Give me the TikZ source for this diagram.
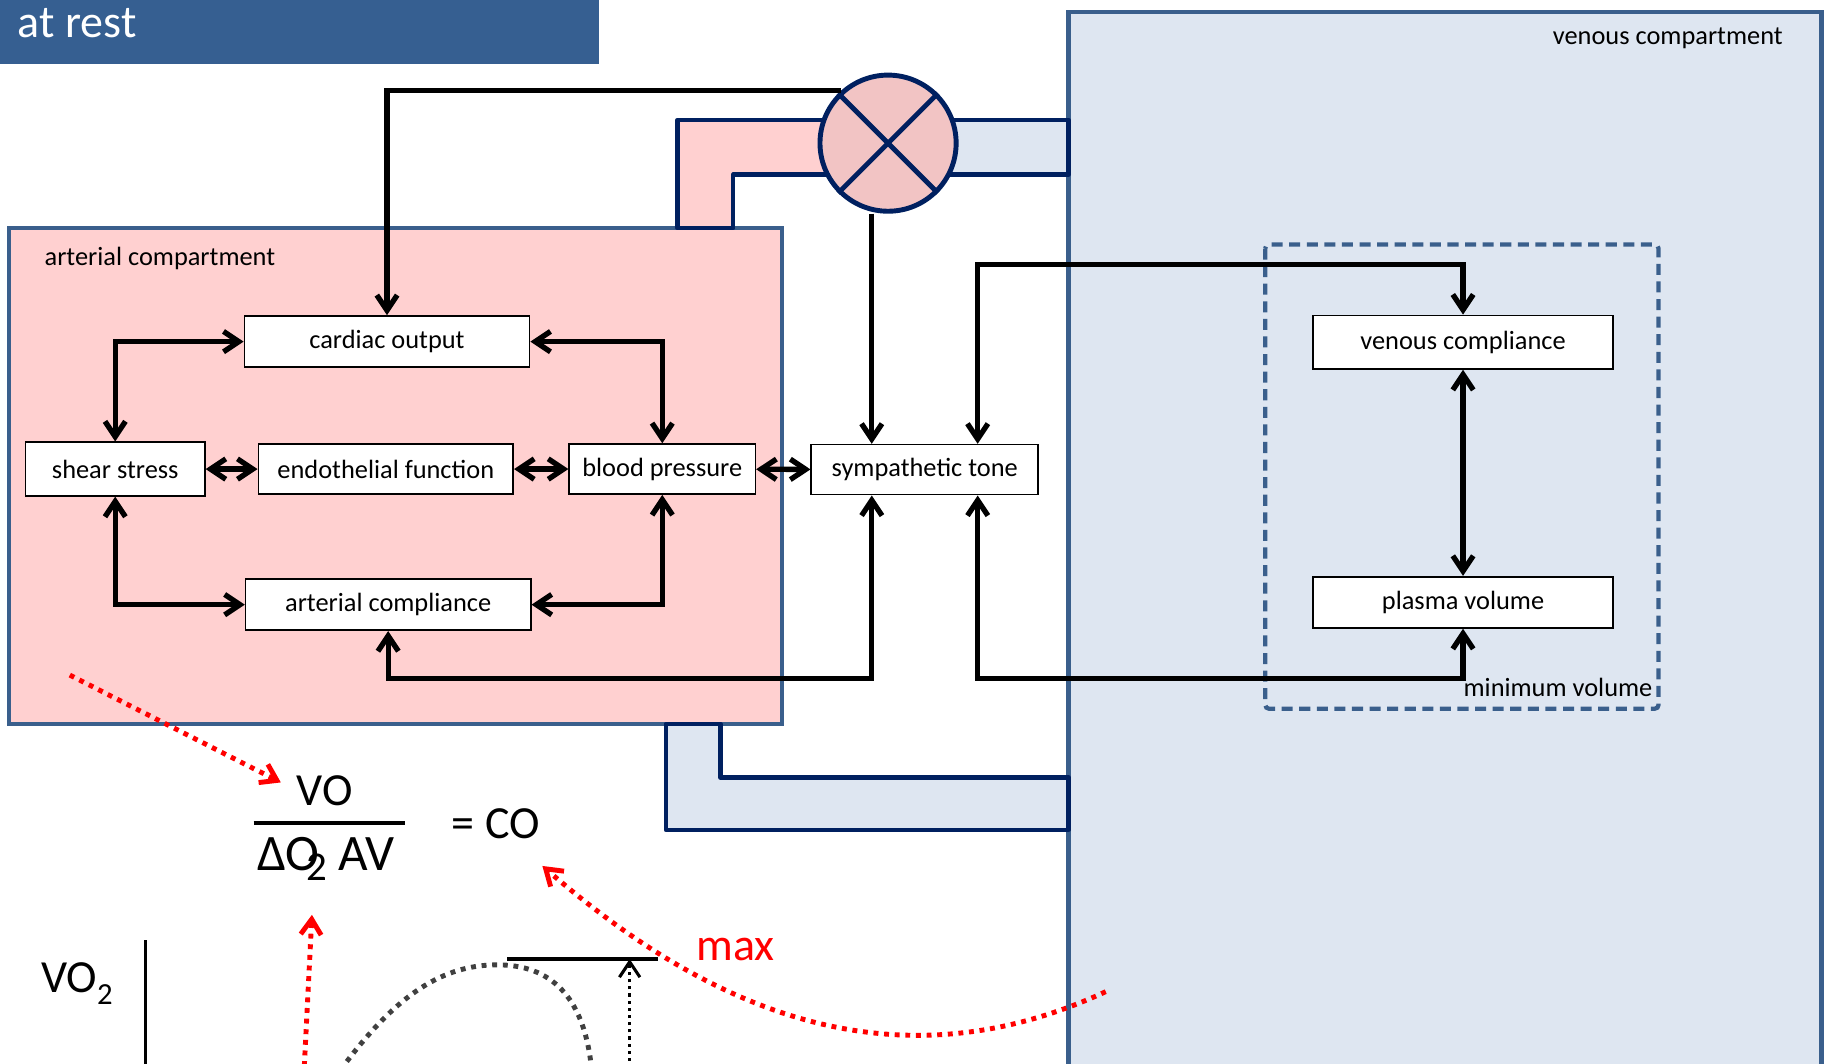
\documentclass[tikz,border=0pt]{standalone}
\usepackage{fontspec}
\setmainfont{Carlito}
\usetikzlibrary{arrows.meta,calc}
\definecolor{banner}{HTML}{365F91}
\definecolor{artfill}{HTML}{FFD0D0}
\definecolor{venfill}{HTML}{DEE6F1}
\definecolor{compline}{HTML}{3A5F8C}
\definecolor{navy}{HTML}{002060}
\definecolor{mixfill}{HTML}{F2C4C4}
\definecolor{dotgray}{HTML}{404040}
\newcommand{\lblfont}{\fontsize{12.9}{15}\selectfont}
\newcommand{\bigfont}{\fontsize{22.5}{27}\selectfont}

\begin{document}
\begin{tikzpicture}[x=0.02cm, y=-0.02cm,
  >={Straight Barb[length=7.5pt,width=10pt]},
  box/.style={draw, line width=0.8pt, fill=white, inner sep=0pt, minimum height=0.88cm, font=\lblfont},
  conn/.style={line width=2.6pt},
  comp/.style={draw=compline, line width=2.1pt},
  pipe/.style={draw=navy, line width=2.1pt, line join=round},
  reddot/.style={red, line width=2.4pt, dash pattern=on 2.4pt off 2.8pt},
  txt/.style={inner sep=0pt, font=\lblfont}
]
  \useasboundingbox (0,0) rectangle (1568,914);
  \clip (0,0) rectangle (1568,914);

  % title bar
  \fill[banner] (0,-10) rectangle (515,55);
  \node[txt, anchor=base west, text=white, font=\bigfont] (title) at (15,32) {at rest};

  % compartments
  \draw[comp, fill=venfill] (918,10) rectangle (1565,960);
  \draw[comp, fill=artfill] (8,196) rectangle (672,622);
  \node[txt, anchor=west] (arttitle) at (38,222) {arterial compartment};
  \node[txt, anchor=east] (ventitle) at (1532,33) {venous compartment};

  % vessels
  \draw[pipe, fill=artfill] (582,196) -- (582,103) -- (740,103) -- (740,150) -- (630,150) -- (630,196) -- cycle;
  \draw[pipe, fill=venfill] (790,103) -- (918,103) -- (918,150) -- (790,150) -- cycle;
  \draw[pipe, fill=venfill] (572,622) -- (572,713) -- (918,713) -- (918,668) -- (619,668) -- (619,622) -- cycle;

  % mixing point
  \node[circle, draw=navy, line width=2.4pt, fill=mixfill, minimum size=2.34cm, inner sep=0pt] (mix) at (763,123) {};
  \draw[navy, line width=2.4pt] (mix.45) -- (mix.225);
  \draw[navy, line width=2.4pt] (mix.135) -- (mix.315);

  % minimum volume
  \draw[compline, line width=2.1pt, dash pattern=on 5.4pt off 3.2pt, rounded corners=2pt] (1087,210) rectangle (1425,609);
  \node[txt, anchor=east] (minvol) at (1420,591) {minimum volume};

  % boxes
  \node[box, minimum width=4.9cm] (co) at (332.5,293.5) {cardiac output};
  \node[box, minimum width=3.08cm, minimum height=0.92cm] (ss) at (99,403) {shear stress};
  \node[box, minimum width=4.38cm, minimum height=0.86cm] (ef) at (331.5,403) {endothelial function};
  \node[box, minimum width=3.2cm, minimum height=0.86cm] (bp) at (569,403) {blood pressure};
  \node[box, minimum width=4.9cm] (ac) at (333.5,519.5) {arterial compliance};
  \node[box, minimum width=3.9cm, minimum height=0.86cm] (st) at (794.5,403.5) {sympathetic tone};
  \node[box, minimum width=5.16cm, minimum height=0.92cm] (vc) at (1257,294) {venous compliance};
  \node[box, minimum width=5.16cm] (pv) at (1257,517.5) {plasma volume};

  \coordinate (stl) at (749,0);
  \coordinate (str) at (840,0);

  % connectors
  \draw[conn, ->] (mix.132) -| (co.north);
  \draw[conn, ->] (mix.south -| stl) -- (st.north -| stl);
  \draw[conn, <->] (st.north -| str) -- ++(0,-154) -| (vc.north);
  \draw[conn, <->] (st.south -| str) -- ++(0,157) -| (pv.south);
  \draw[conn, <->] (ac.south) -- ++(0,41) -| (st.south -| stl);
  \draw[conn, <->] (vc) -- (pv);
  \draw[conn, <->] (ss.north) |- (co.west);
  \draw[conn, <->] (co.east) -| (bp.north);
  \draw[conn, <->] (ss.south) |- (ac.west);
  \draw[conn, <->] (bp.south) |- (ac.east);
  \foreach \a/\b in {ss/ef, ef/bp, bp/st} {
    \draw[conn, <->] (\a) -- (\b);
  }

  % Fick equation
  \node[txt, font=\bigfont] (vo) at (279,679) {VO};
  \draw[line width=1.9pt] (218,707) -- (348,707);
  \node[txt, font=\fontsize{25}{30}\selectfont] (avd) at (280,738) {ΔO\kern-0.27em\raisebox{-5pt}{\fontsize{20}{20}\selectfont 2}\ AV};
  \node[txt, font=\bigfont] (coeq) at (426,708) {= CO};

  % VO2 sketch
  \node[txt, font=\bigfont, anchor=west] (vox) at (35,845) {VO\raisebox{-5.5pt}{\fontsize{15}{15}\selectfont 2}};
  \draw[line width=1.9pt] (125,808) -- (125,930);
  \draw[line width=1.9pt] (436,824) -- (565,824);
  \coordinate (peak) at (541,824);
  \draw[line width=1.5pt, dash pattern=on 1.5pt off 2pt, ->] (541,930) -- (peak);
  \draw[dotgray, line width=2.4pt, dash pattern=on 2.4pt off 2.8pt] (298,912) .. controls (345,850) and (385,828) .. (430,829) .. controls (478,830) and (502,862) .. (508,916);
  \node[txt, font=\bigfont, text=red] (maxl) at (632,816) {max};

  % red pointers
  \coordinate (r1) at (60,580);
  \coordinate (r2) at (261,925);
  \coordinate (r2e) at (268,786);
  \coordinate (r3) at (950,852);
  \coordinate (r3e) at (466,744);
  \draw[reddot, ->, shorten >=8.5pt] (r1) -- (vo.west);
  \draw[reddot, ->] (r2) -- (r2e);
  \draw[reddot, ->] (r3) .. controls (760,940) and (600,860) .. (r3e);
\end{tikzpicture}
\end{document}
